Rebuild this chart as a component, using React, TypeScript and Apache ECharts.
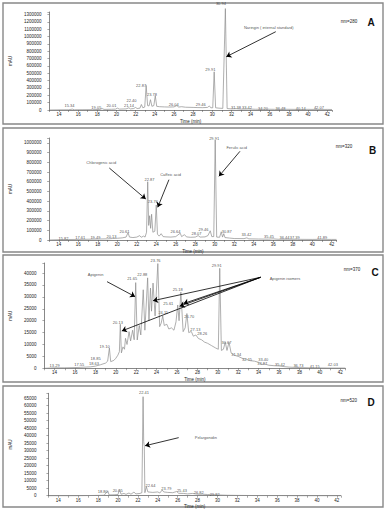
import React, { useEffect, useRef } from 'react';
import * as echarts from 'echarts';

const FONT = '"Liberation Sans", Arial, sans-serif';

// ---------- Panel A (nm=280) ----------
const traceA: number[][] = [
  [13, 0], [14, 2000], [15, 3000], [15.4, 12000], [15.6, 3000], [16.5, 4000], [17.5, 5000],
  [18.3, 8000], [18.5, 20000], [18.7, 8000], [19.5, 10000], [19.9, 12000], [20.1, 25000],
  [20.3, 12000], [21, 15000], [21.3, 30000], [21.45, 15000], [21.8, 20000], [22.0, 35000],
  [22.15, 20000], [22.45, 25000], [22.6, 75000], [22.75, 30000], [22.95, 40000], [23.1, 335000],
  [23.25, 60000], [23.4, 55000], [23.55, 140000], [23.7, 50000], [23.9, 60000], [24.05, 195000],
  [24.2, 50000], [24.5, 45000], [25, 42000], [25.5, 40000], [26, 42000], [26.3, 60000],
  [26.5, 40000], [26.8, 45000], [27.2, 38000], [28, 35000], [28.5, 33000], [29, 32000],
  [29.5, 35000], [29.7, 55000], [29.85, 30000], [30.05, 30000], [30.2, 520000], [30.35, 30000],
  [30.7, 25000], [31.1, 22000], [31.37, 1380000], [31.55, 20000], [32, 15000], [32.5, 18000],
  [33, 12000], [33.8, 14000], [34.5, 10000], [35.5, 11000], [36.5, 9000], [37.5, 10000],
  [39, 8000], [40, 9000], [41, 7000], [42, 8000], [42.5, 7000],
];
const labelsA: (number | string)[][] = [
  [15.1, 54500, '15.34'], [17.9, 31300, '19.05'], [19.47, 54500, '20.01'], [21.3, 54500, '21.14'],
  [21.57, 136000, '22.40'], [22.57, 340000, '22.87'], [23.7, 213700, '23.78'], [25.97, 77600, '26.04'],
  [28.8, 77600, '29.46'], [29.8, 554000, '29.91'], [30.9, 1452500, '30.94'], [32.47, 36800, '31.38'],
  [33.63, 36800, '33.42'], [35.3, 23100, '34.20'], [37.13, 23100, '36.48'], [39.23, 23100, '40.14'],
  [41.13, 36800, '42.07'],
];
const notesA: (number | string)[][] = [[35.9, 1125800, 'Naringin ( internal standard)']];
const arrowsA: number[][] = [[36.63, 1066000, 31.47, 725600]];

// ---------- Panel B (nm=320) ----------
const traceB: number[][] = [
  [13, 0], [14, 3000], [15, 5000], [16, 6000], [17, 8000], [18, 10000], [19, 12000], [19.5, 15000],
  [20, 18000], [20.5, 22000], [20.9, 30000], [21.1, 75000], [21.25, 30000], [21.6, 25000],
  [22, 30000], [22.3, 45000], [22.45, 28000], [22.7, 40000], [22.85, 30000], [23.0, 80000],
  [23.12, 600000], [23.22, 150000], [23.32, 250000], [23.42, 120000], [23.52, 265000],
  [23.65, 80000], [23.85, 90000], [24.0, 360000], [24.12, 60000], [24.3, 40000], [24.5, 65000],
  [24.7, 35000], [25, 32000], [25.5, 30000], [26, 35000], [26.46, 70000], [26.6, 35000],
  [26.9, 55000], [27.1, 32000], [27.5, 28000], [28, 30000], [28.3, 45000], [28.5, 30000],
  [29, 32000], [29.3, 45000], [29.54, 95000], [29.7, 35000], [29.9, 35000], [30.05, 1030000],
  [30.2, 30000], [30.5, 28000], [30.67, 85000], [30.8, 30000], [30.93, 65000], [31.05, 25000],
  [31.5, 20000], [32, 15000], [33, 14000], [33.3, 22000], [33.5, 12000], [34.5, 10000],
  [35.5, 9000], [36, 12000], [36.5, 8000], [37.5, 8000], [38.5, 7000], [40, 6000], [41, 7000],
  [42, 6000], [42.5, 6000],
];
const labelsB: (number | string)[][] = [
  [14.48, 17500, '15.82'], [16.2, 23700, '17.61'], [17.75, 27800, '19.49'], [19.41, 34000, '20.13'],
  [20.73, 92600, '20.61'], [23.3, 620000, '22.87'], [23.65, 398000, '23.76'], [25.97, 92600, '26.64'],
  [28.12, 69000, '28.07'], [28.85, 110000, '29.46'], [29.94, 1050000, '29.91'], [31.23, 92600, '30.87'],
  [33.25, 51500, '33.42'], [35.57, 34000, '35.45'], [37.16, 27800, '36.44'], [38.21, 27800, '37.39'],
  [41.03, 27800, '41.89'],
];
const notesB: (number | string)[][] = [
  [18.35, 792700, 'Chlorogenic acid'], [25.47, 672000, 'Caffeic acid'], [32.25, 954000, 'Ferulic acid'],
];
const arrowsB: number[][] = [
  [19.18, 741000, 22.92, 422000], [25.3, 621000, 24.15, 336600], [32.59, 913000, 30.43, 655800],
];

// ---------- Panel C (nm=370) ----------
const traceC: number[][] = [
  [13, 0], [14, 200], [15, 200], [16, 300], [16.5, 400], [17, 500], [17.5, 600], [18, 900],
  [18.5, 1500], [19, 2200], [19.2, 3000], [19.37, 8500], [19.5, 2800], [19.8, 3300], [20.0, 4200],
  [20.2, 5500], [20.35, 7000], [20.44, 18500], [20.55, 6500], [20.7, 9000], [20.85, 8000],
  [20.95, 12600], [21.1, 10000], [21.3, 15400], [21.45, 11500], [21.65, 16000], [21.8, 12000],
  [21.95, 36000], [22.1, 11900], [22.3, 18000], [22.45, 14000], [22.69, 33000], [22.85, 16000],
  [23.12, 38000], [23.25, 20000], [23.4, 33700], [23.5, 24000], [23.65, 35800], [23.85, 22000],
  [24.12, 44000], [24.3, 17500], [24.45, 19000], [24.6, 22000], [24.75, 18000], [25.0, 18500],
  [25.2, 16500], [25.45, 17000], [25.7, 16000], [25.9, 19500], [26.07, 26600], [26.2, 20000],
  [26.38, 32000], [26.6, 15400], [26.8, 17000], [26.97, 23000], [27.15, 15000], [27.4, 15500],
  [27.6, 13500], [27.85, 14000], [28.1, 12500], [28.4, 12000], [28.7, 11000], [29, 10500],
  [29.4, 9500], [29.8, 8500], [30.05, 8000], [30.19, 42000], [30.35, 7500], [30.55, 8000],
  [30.73, 11000], [30.9, 7500], [31.1, 11000], [31.3, 6500], [31.6, 5500], [32, 5000],
  [32.4, 4200], [32.8, 3800], [33.2, 3200], [33.6, 3000], [34, 2500], [34.3, 1600], [34.6, 1800],
  [35, 1300], [35.5, 1100], [36, 1000], [36.5, 700], [37, 500], [38, 300], [39, 200], [40, 150],
  [41, 100], [42, 100], [42.5, 100],
];
const labelsC: (number | string)[][] = [
  [14.0, 1000, '13.29'], [16.41, 1400, '17.55'], [18.02, 4300, '18.85'], [17.86, 2100, '18.63'],
  [18.9, 9000, '19.10'], [20.2, 19400, '20.13'], [21.6, 37700, '21.65'], [22.6, 39200, '22.88'],
  [23.9, 45500, '23.76'], [24.65, 23400, '24.11'], [25.15, 27300, '25.61'], [26.07, 33200, '25.18'],
  [27.2, 21700, '26.70'], [27.8, 16200, '27.13'], [28.48, 14700, '28.26'], [29.9, 43300, '29.91'],
  [30.85, 10900, '30.67'], [31.8, 5900, '31.34'], [32.87, 3900, '32.15'], [34.46, 3900, '33.40'],
  [34.35, 2100, '33.87'], [36.1, 1800, '35.42'], [37.9, 1000, '36.73'], [39.5, 700, '41.15'],
  [41.28, 1400, '42.03'],
];
const notesC: (number | string)[][] = [
  [18.02, 39200, 'Apigenin'], [36.59, 37800, 'Apigenin isomers'],
];
const arrowsC: number[][] = [
  [19.14, 36400, 21.89, 30100],
  [34.2, 38240, 23.65, 28400],
  [34.2, 38240, 26.26, 26100],
  [34.2, 38240, 26.64, 27200],
  [34.2, 38240, 20.59, 15700],
];

// ---------- Panel D (nm=520) ----------
const traceD: number[][] = [
  [13, 0], [14, 0], [15, 0], [16, 0], [17, 100], [18, 200], [18.6, 300], [18.97, 3200], [19.1, 500],
  [19.6, 600], [20.0, 800], [20.13, 4200], [20.3, 1000], [20.6, 1500], [20.8, 900], [21.1, 1800],
  [21.3, 1000], [21.6, 2400], [21.8, 1200], [22.2, 1500], [22.4, 2000], [22.52, 66000],
  [22.58, 36000], [22.64, 33000], [22.7, 2000], [22.85, 6000], [23.0, 2500], [23.5, 2200],
  [24.0, 2500], [24.2, 1800], [24.44, 3800], [24.6, 2500], [25.0, 2200], [25.5, 2000],
  [25.9, 2800], [26.1, 1600], [26.6, 1500], [27.0, 1200], [27.5, 1500], [28, 1000], [28.5, 1000],
  [29, 800], [29.5, 600], [30, 500], [31, 300], [32, 200], [34, 100], [36, 100], [38, 0], [40, 0],
  [42, 0], [42.4, 0],
];
const labelsD: (number | string)[][] = [
  [18.47, 3100, '18.80'], [19.96, 3800, '20.05'], [22.61, 68900, '22.41'], [23.27, 7100, '22.64'],
  [24.86, 4900, '23.79'], [26.42, 3800, '25.43'], [28.11, 2300, '26.82'], [29.73, 1100, '29.82'],
];
const notesD: (number | string)[][] = [[28.83, 38900, 'Pelargonidin']];
const arrowsD: number[][] = [[26.1, 38700, 22.72, 33300]];

// ---------- layout ----------
const panels = [
  {
    trace: traceA, labels: labelsA, notes: notesA, arrows: arrowsA,
    grid: { left: 37, top: 12, width: 295, height: 98 }, yMax: 1334000, yStep: 100000, xMax: 42.5,
    labelMargin: 8, nameGap: 30, nm: 'nm=280', letter: 'A', box: [3, 3, 380, 121], nmPos: [349, 21], letterPos: [371, 22],
  },
  {
    trace: traceB, labels: labelsB, notes: notesB, arrows: arrowsB,
    grid: { left: 39.4, top: 138, width: 297.1, height: 102 }, yMax: 1050000, yStep: 100000, xMax: 42.5,
    labelMargin: 7.7, nameGap: 29.4, nm: 'nm=320', letter: 'B', box: [3, 128, 380, 124], nmPos: [344, 146.5], letterPos: [372.5, 150.5],
  },
  {
    trace: traceC, labels: labelsC, notes: notesC, arrows: arrowsC,
    grid: { left: 39.6, top: 263, width: 305.7, height: 105.3 }, yMax: 44240, yStep: 5000, xMax: 42.5,
    labelMargin: 8, nameGap: 24.6, nm: 'nm=370', letter: 'C', box: [3, 255, 380, 127], nmPos: [352, 269.3], letterPos: [375, 272.7],
  },
  {
    trace: traceD, labels: labelsD, notes: notesD, arrows: arrowsD,
    grid: { left: 45, top: 393.3, width: 295.8, height: 102.4 }, yMax: 68270, yStep: 5000, xMax: 42.4,
    labelMargin: 12, nameGap: 25, nm: 'nm=520', letter: 'D', box: [3, 386, 380, 121], nmPos: [348.7, 400.7], letterPos: [371, 402.7],
  },
];

export default function App() {
  const ref = useRef<HTMLDivElement>(null);
  useEffect(() => {
    if (!ref.current) return;
    const chart = echarts.init(ref.current, undefined, { renderer: 'svg' });
    const axisColor = '#555';
    const textColor = '#222';
    const option: any = {
      animation: false,
      backgroundColor: '#fff',
      grid: panels.map((p) => ({ ...p.grid })),
      xAxis: panels.map((p, i) => ({
        type: 'value', gridIndex: i, min: 13, max: p.xMax, interval: 1,
        name: 'Time (min)', nameLocation: 'middle', nameGap: 8.5,
        nameTextStyle: { fontSize: 4.5, fontFamily: FONT, color: textColor },
        axisLine: { show: true, lineStyle: { color: axisColor, width: 0.7 } },
        axisTick: { show: true, length: 2, lineStyle: { color: axisColor, width: 0.5 } },
        axisLabel: {
          margin: 2, fontSize: 4.5, fontFamily: FONT, color: textColor,
          showMinLabel: true, showMaxLabel: true,
          formatter: (v: number) => (Math.abs(v % 2) < 1e-9 && v >= 14 && v <= 42 ? String(v) : ''),
        },
        splitLine: { show: false },
      })),
      yAxis: panels.map((p, i) => ({
        type: 'value', gridIndex: i, min: 0, max: p.yMax, interval: p.yStep,
        name: 'mAU', nameLocation: 'middle', nameGap: p.nameGap, nameRotate: 90,
        nameTextStyle: { fontSize: 4.5, fontFamily: FONT, color: textColor },
        axisLine: { show: true, lineStyle: { color: axisColor, width: 0.7 } },
        axisTick: { show: true, length: 2, lineStyle: { color: axisColor, width: 0.5 } },
        axisLabel: {
          margin: p.labelMargin, fontSize: 4.5, fontFamily: FONT, color: textColor,
          formatter: (v: number) => (Math.round(v) % p.yStep === 0 ? String(v) : ''),
        },
        splitLine: { show: false },
      })),
      series: panels.flatMap((p, i) => [
        {
          type: 'line', xAxisIndex: i, yAxisIndex: i, data: p.trace,
          symbol: 'none', showSymbol: false, clip: false, silent: true,
          lineStyle: { color: '#8c8c8c', width: 0.7 },
        },
        {
          type: 'scatter', xAxisIndex: i, yAxisIndex: i, clip: false, silent: true,
          symbolSize: 1, itemStyle: { color: 'rgba(0,0,0,0)' },
          data: [...p.labels, ...p.notes],
          label: {
            show: true, position: 'inside', fontSize: 4, fontFamily: FONT, color: textColor,
            formatter: (d: any) => String(d.value[2]),
          },
          markLine: {
            silent: true, symbol: ['none', 'arrow'], symbolSize: 5, precision: 4,
            label: { show: false },
            lineStyle: { color: '#000', width: 0.8, type: 'solid' },
            data: p.arrows.map((a) => [{ coord: [a[0], a[1]] }, { coord: [a[2], a[3]] }]),
          },
        },
      ]),
      graphic: panels.flatMap((p) => [
        {
          type: 'rect', silent: true,
          shape: { x: p.box[0], y: p.box[1], width: p.box[2], height: p.box[3] },
          style: { fill: 'none', stroke: '#888', lineWidth: 1.4 },
        },
        {
          type: 'text', silent: true, x: p.nmPos[0], y: p.nmPos[1],
          style: { text: p.nm, fontSize: 4.5, fontFamily: FONT, fill: textColor, align: 'center', verticalAlign: 'middle', textAlign: 'center', textVerticalAlign: 'middle' },
        },
        {
          type: 'text', silent: true, x: p.letterPos[0], y: p.letterPos[1],
          style: { text: p.letter, fontSize: 10, fontWeight: 'bold', fontFamily: FONT, fill: '#111', align: 'center', verticalAlign: 'middle', textAlign: 'center', textVerticalAlign: 'middle' },
        },
      ]),
    };
    chart.setOption(option);
    return () => chart.dispose();
  }, []);
  return (
    <div
      ref={ref}
      style={{ position: 'fixed', left: 0, top: 0, width: 386, height: 511, background: '#fff' }}
    />
  );
}
